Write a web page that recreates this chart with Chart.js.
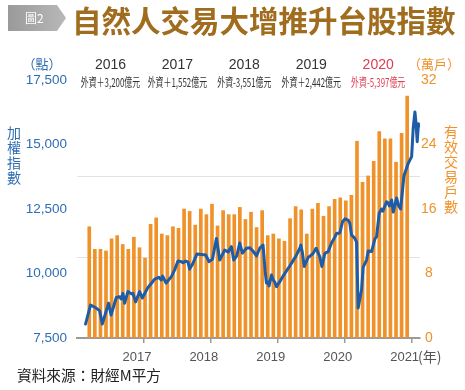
<!DOCTYPE html>
<html><head><meta charset="utf-8">
<script src="https://cdn.jsdelivr.net/npm/chart.js@4"></script>
<style>html,body{margin:0;padding:0;background:#fff;}#wrap{width:465px;height:390px;position:relative}</style>
</head><body><div id="wrap"><canvas id="c" width="465" height="390"></canvas></div>
<script>
// months counted from Jan 2016 (0 = start of Jan 2016)
const barStartMonth = 2; // first bar: Mar 2016
const accounts = [13.8,11.0,11.0,10.8,12.3,12.7,11.6,11.0,12.5,11.2,
  9.9,14.1,14.9,12.9,12.7,13.8,13.6,16.0,15.7,14.0,16.0,15.3,
  16.6,13.9,15.8,15.3,15.3,16.2,14.7,15.6,13.7,15.8,12.7,12.9,
  12.3,12.0,14.8,16.3,15.9,12.9,16.0,16.7,15.1,16.3,17.2,17.4,
  17.0,17.7,24.4,19.3,20.1,21.9,25.6,24.7,24.7,21.8,25.4,30.0];
const lineMonths = [1.53,2.43,3.28,4.05,4.53,5.66,6.11,7.05,7.64,7.91,
  8.23,8.54,9.13,9.74,10.03,10.51,11.23,11.71,12.66,13.38,
  13.92,14.69,15.12,15.36,15.98,16.92,17.51,18.10,18.59,19.00,
  19.48,19.90,20.20,20.80,21.51,22.30,23.07,23.67,24.28,25.00,
  25.32,25.59,26.49,27.08,27.69,28.10,28.64,29.18,29.66,30.38,
  30.97,31.56,32.18,32.77,33.36,33.75,33.97,34.29,34.44,34.87,
  35.19,35.46,35.77,36.05,36.36,36.95,37.56,38.15,38.75,39.36,
  39.95,40.13,40.40,40.75,41.44,42.05,42.34,42.87,43.54,43.90,
  44.44,45.03,45.64,46.23,46.54,47.13,47.61,48.03,48.62,48.92,
  49.23,49.82,50.13,50.41,51.02,51.31,51.92,52.21,52.82,53.41,
  53.72,54.18,54.61,54.85,55.21,55.51,55.80,56.01,56.41,56.70,
  57.31,57.59,58.02,58.62,59.39,60.00,60.28,60.59,60.77,61.00,
  61.22,61.40];
const taiex = [8040,8780,8680,8560,8040,8850,8390,9070,9100,9010,
  9230,8850,9300,9210,9230,8900,9300,9050,9440,9630,
  9780,9850,9750,9900,9630,9880,10140,10480,10470,10420,
  10480,10450,10170,10400,10760,10740,10720,10460,10550,11360,
  10910,10520,10910,10830,11040,10520,10680,11180,10790,10980,
  11000,10870,10680,10980,11100,10060,9630,9670,9520,9940,
  9750,9670,9490,9590,9680,9900,10100,10290,10500,10720,
  10980,11100,10830,10270,10620,10720,10780,10980,10650,10270,
  10780,10850,11180,11410,11550,11570,12000,12120,12070,11940,
  11490,11360,11220,8660,9360,10250,10520,10870,10850,11340,
  11430,12330,12500,12420,12620,12780,12730,12620,12850,12380,
  12930,12660,12500,13780,14270,14530,15630,16260,15870,15110,
  15800,15720];
const yearTicks = ['2017','2018','2019','2020','2021'];
const leftTicks = [7500,10000,12500,15000,17500];
const rightTicks = [0,8,16,24,32];
const gridAt = [10,20];
const annoYears = ['2016','2017','2018','2019','2020'];
const annoFlows = ['外資＋3,200億元','外資＋1,552億元','外資-3,551億元','外資＋2,442億元','外資-5,397億元'];
const titleText = '自然人交易大增推升台股指數';
const sourceText = '資料來源：財經M平方';

const BLUE = '#1c5ca8', ORANGE = '#f0922a', LBLUE = '#2f6db3';
const barData = accounts.map((v,i)=>({x: barStartMonth + i + 0.2, y: v}));
const lineData = lineMonths.map((m,i)=>({x: m, y: taiex[i]}));

const decor = {
  id:'decor',
  afterDraw(chart){
    const ctx = chart.ctx, xs = chart.scales.x;
    ctx.save();
    const g = ctx.createLinearGradient(8,0,66,0);
    g.addColorStop(0,'#9a9a9a'); g.addColorStop(1,'#b8b8b8');
    ctx.fillStyle = g;
    ctx.beginPath(); ctx.moveTo(8,5); ctx.lineTo(57,5); ctx.lineTo(66,18); ctx.lineTo(57,31); ctx.lineTo(8,31); ctx.closePath(); ctx.fill();
    ctx.fillStyle = '#fff'; ctx.font = '12px "Noto Sans CJK TC"'; ctx.textBaseline='middle'; ctx.textAlign='left';
    ctx.fillText('圖2', 25, 18);
    ctx.fillStyle = '#a06c1e'; ctx.font = 'bold 29.5px "Noto Sans CJK TC"';
    ctx.fillText(titleText, 72, 21, 384);
    annoYears.forEach((y,i)=>{
      const cx = xs.getPixelForValue(i*12+6);
      const red = i===4;
      ctx.textAlign='center';
      ctx.fillStyle = red ? '#e23a4e' : '#333';
      ctx.font = '14px "Liberation Sans"';
      ctx.fillText(y, cx, 65);
      ctx.save(); ctx.translate(cx, 82); ctx.scale(0.66,1);
      ctx.font = '12px "Noto Sans CJK TC"';
      ctx.fillText(annoFlows[i], 0, 0);
      ctx.restore();
    });
    ctx.font = '13px "Noto Sans CJK TC"';
    ctx.fillStyle = LBLUE; ctx.textAlign='center';
    ctx.fillText('（點）', 42, 64);
    ctx.fillStyle = ORANGE;
    ctx.fillText('（萬戶）', 434, 64);
    ctx.font = '14px "Noto Sans CJK TC"';
    ctx.fillStyle = LBLUE;
    '加權指數'.split('').forEach((c,i)=>ctx.fillText(c, 14, 133 + i*15));
    ctx.fillStyle = ORANGE;
    '有效交易戶數'.split('').forEach((c,i)=>ctx.fillText(c, 451, 132 + i*15));
    ctx.fillStyle = '#555'; ctx.textAlign='left'; ctx.font = '14px "Noto Sans CJK TC"';
    ctx.fillText('(年)', 418, 357);
    ctx.fillStyle = '#222'; ctx.font = '15px "Noto Sans CJK TC"';
    ctx.fillText(sourceText, 17, 375, 144);
    ctx.restore();
  }
};

new Chart(document.getElementById('c'), {
  data: { datasets: [
    {type:'line', data: lineData, yAxisID:'yL', borderColor: BLUE, borderWidth: 3, pointRadius: 0, tension: 0, order: 0, borderJoinStyle:'round', borderCapStyle:'round'},
    {type:'bar', data: barData, yAxisID:'yR', backgroundColor: ORANGE, barThickness: 3, order: 1}
  ]},
  options: {
    responsive:false, animation:false, devicePixelRatio:1,
    plugins:{legend:{display:false}, tooltip:{enabled:false}},
    layout:{padding:{top:80, left:0, right:0, bottom:0}},
    scales:{
      x:{type:'linear', min:0, max:61.5, offset:false,
        afterBuildTicks: s=>{ s.ticks = yearTicks.map((t,i)=>({value:12*(i+1)})); },
        ticks:{callback:(v)=>yearTicks[Math.round(v/12)-1], font:{family:'"Liberation Sans"', size:13}, color:'#555', padding:7, labelOffset:-7, maxRotation:0, autoSkip:false},
        grid:{display:true, offset:false, drawOnChartArea:false, drawTicks:true, tickLength:5, color:'#9a9a9a', lineWidth:1.5},
        border:{display:true, color:'#9a9a9a', width:2},
        afterFit: s=>{ s.height = 52; }
      },
      yL:{position:'left', min:7500, max:17500,
        afterBuildTicks: s=>{ s.ticks = leftTicks.map(v=>({value:v})); },
        ticks:{callback:(v)=>v.toLocaleString('en-US'), font:{family:'"Liberation Sans"', size:13.5}, color:LBLUE, padding:10},
        grid:{display:false, drawTicks:false}, border:{display:false},
        afterFit: s=>{ s.width = 77; }
      },
      yR:{position:'right', min:0, max:32,
        afterBuildTicks: s=>{ s.ticks = rightTicks.concat(gridAt).sort((a,b)=>a-b).map(v=>({value:v})); },
        ticks:{callback:(v)=>gridAt.includes(v)?'':String(v), font:{family:'"Liberation Sans"', size:14}, color:ORANGE, padding:1, crossAlign:'center', autoSkip:false},
        grid:{drawTicks:false, color:(c)=>gridAt.includes(c.tick && c.tick.value)?'#e2e2e2':'rgba(0,0,0,0)', lineWidth:1},
        border:{display:false},
        afterFit: s=>{ s.width = 45; }
      }
    }
  },
  plugins:[decor]
});
</script>
</body></html>
